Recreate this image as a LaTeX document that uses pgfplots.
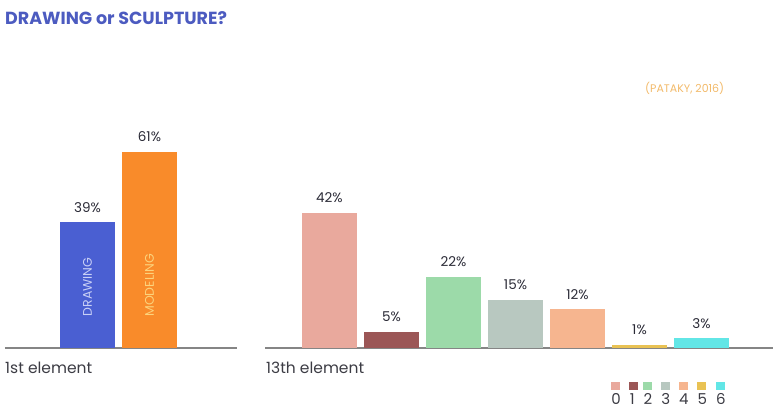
\documentclass[border=0pt]{standalone}
\usepackage{pgfplots}
\pgfplotsset{compat=1.18}
\usepackage{fontspec}
\setmainfont{Poppins}
\definecolor{titleblue}{HTML}{4C5BC0}
\definecolor{pataky}{HTML}{F2BA6A}
\definecolor{labtext}{HTML}{3C3C44}
\definecolor{valtext}{HTML}{2A2A36}
\definecolor{axisgrey}{HTML}{858585}
\definecolor{cdraw}{HTML}{4A5FD2}
\definecolor{cmodel}{HTML}{F98B2A}
\definecolor{drawtext}{HTML}{C9D0F6}
\definecolor{modeltext}{HTML}{FCD37C}
\definecolor{czero}{HTML}{E9A99D}
\definecolor{cone}{HTML}{9B5656}
\definecolor{ctwo}{HTML}{9CDAA9}
\definecolor{cthree}{HTML}{B8C8C0}
\definecolor{cfour}{HTML}{F6B58F}
\definecolor{cfive}{HTML}{E9C253}
\definecolor{csix}{HTML}{62E6E6}
\pgfplotsset{
  mybars/.style={
    scale only axis, x=62pt, y=3.22pt, ymin=0, ymax=70,
    axis x line*=bottom, axis y line=none,
    xtick=\empty, ytick=\empty,
    axis line style={draw=axisgrey, line width=1.5pt},
    ybar, bar width=55pt, bar shift=0pt,
    /pgf/number format/assume math mode=true,
    nodes near coords={\pgfmathprintnumber{\pgfplotspointmeta}\%},
    every node near coord/.append style={font=\fontsize{13.5}{15}\selectfont, text=valtext, yshift=6.5pt},
    clip=false,
  }
}
\begin{document}
\begin{tikzpicture}
\path[use as bounding box] (0pt,0pt) rectangle (773pt,-411pt);
\node[anchor=base west, inner sep=0pt, font=\fontsize{17.5}{20}\selectfont\bfseries, text=titleblue] at (5pt,-25pt) {DRAWING or SCULPTURE?};
\node[anchor=west, inner sep=0pt, font=\fontsize{11}{13}\selectfont, text=pataky] at (645pt,-88pt) {(PATAKY, 2016)};
\node[anchor=base west, inner sep=0pt, font=\fontsize{15.5}{18}\selectfont, text=labtext] at (5pt,-373pt) {1st element};
\node[anchor=base west, inner sep=0pt, font=\fontsize{15.5}{18}\selectfont, text=labtext] at (266pt,-373pt) {13th element};

\begin{axis}[mybars, at={(5pt,-348pt)}, anchor=south west, xmin=-1.33, xmax=2.41]
\addplot[fill=cdraw, draw=none] coordinates {(0,39)};
\addplot[fill=cmodel, draw=none] coordinates {(1,61)};
\node[rotate=90, font=\fontsize{12.5}{14}\selectfont, text=drawtext] at (axis cs:0,19) {DRAWING};
\node[rotate=90, font=\fontsize{12.5}{14}\selectfont, text=modeltext] at (axis cs:1,19.5) {MODELING};
\end{axis}

\begin{axis}[mybars, at={(265pt,-348pt)}, anchor=south west, xmin=-1.04, xmax=7.15,
  legend columns=7,
  legend style={draw=none, fill=none, at={(0.678,-0.192)}, anchor=north west,
    inner sep=0pt, font=\fontsize{15}{17}\selectfont, text=labtext,
    /tikz/every even column/.append style={column sep=5pt}},
  legend image code/.code={\fill[#1,draw=none,overlay] (1.5pt,9.5pt) rectangle ++(9pt,8pt);}]
\addplot[fill=czero, draw=none] coordinates {(0,42)};
\addlegendentry{0}
\addplot[fill=cone, draw=none] coordinates {(1,5)};
\addlegendentry{1}
\addplot[fill=ctwo, draw=none] coordinates {(2,22)};
\addlegendentry{2}
\addplot[fill=cthree, draw=none] coordinates {(3,15)};
\addlegendentry{3}
\addplot[fill=cfour, draw=none] coordinates {(4,12)};
\addlegendentry{4}
\addplot[fill=cfive, draw=none] coordinates {(5,1)};
\addlegendentry{5}
\addplot[fill=csix, draw=none] coordinates {(6,3)};
\addlegendentry{6}
\end{axis}
\end{tikzpicture}
\end{document}
